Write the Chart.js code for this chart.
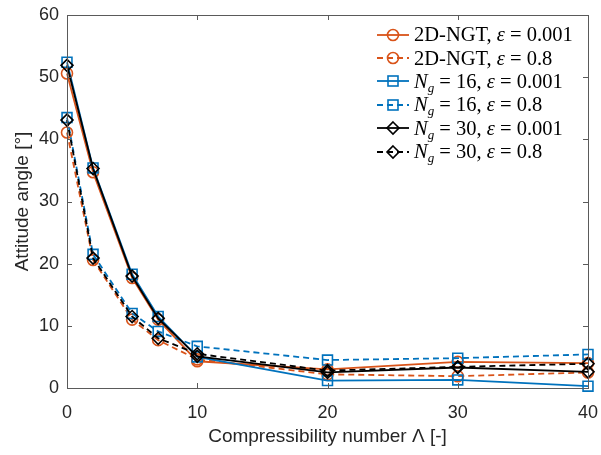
<!DOCTYPE html>
<html>
<head>
<meta charset="utf-8">
<script src="https://cdn.jsdelivr.net/npm/chart.js@4.4.1/dist/chart.umd.min.js"></script>
<style>
  html, body { margin: 0; padding: 0; background: #fff; }
  #wrap { position: relative; width: 601px; height: 455px; }
  #legend {
    position: absolute; left: 376px; top: 23px;
    font-family: "Liberation Serif", "DejaVu Serif", serif; font-size: 20.5px; color: #000;
  }
  #legend .row { height: 23.4px; display: flex; align-items: center; white-space: nowrap; }
  #legend svg { margin-right: 4px; }
  #legend sub { font-size: 13px; vertical-align: -4px; line-height: 0; }
</style>
</head>
<body>
<div id="wrap">
  <canvas id="chart" width="601" height="455"></canvas>
  <div id="legend"></div>
</div>
<script>
// compressibility numbers
var lambdas = [0, 2, 5, 7, 10, 20, 30, 40];

// attitude angle [deg]
var ngtFine   = [50.6, 34.7, 17.7, 11.0, 4.3, 3.0, 4.2, 4.0];
var ngtCoarse = [41.1, 20.6, 11.0, 7.7, 4.6, 2.2, 1.9, 2.5];
var ng16Fine   = [52.4, 35.4, 18.3, 11.5, 5.0, 1.2, 1.3, 0.3];
var ng16Coarse = [43.5, 21.5, 12.0, 9.1, 6.7, 4.5, 4.8, 5.4];
var ng30Fine   = [51.9, 35.3, 18.0, 11.2, 5.1, 2.5, 3.3, 2.6];
var ng30Coarse = [43.1, 20.9, 11.5, 8.0, 5.5, 2.8, 3.4, 3.9];

var xTicks = [0, 10, 20, 30, 40];
var yTicks = [0, 10, 20, 30, 40, 50, 60];

var orange = "#D95319";
var blue = "#0072BD";
var black = "#000000";

var seriesInfo = [
    {data: ngtFine,   color: orange, dash: [],     marker: "circle",  r: 5.5, label: '2D-NGT, <i>ε</i> = 0.001'},
    {data: ngtCoarse, color: orange, dash: [6, 4], marker: "circle",  r: 5.5, label: '2D-NGT, <i>ε</i> = 0.8'},
    {data: ng16Fine,  color: blue,   dash: [],     marker: "rect",    r: 7,   label: '<i>N</i><sub><i>g</i></sub> = 16, <i>ε</i> = 0.001'},
    {data: ng16Coarse,color: blue,   dash: [6, 4], marker: "rect",    r: 7,   label: '<i>N</i><sub><i>g</i></sub> = 16, <i>ε</i> = 0.8'},
    {data: ng30Fine,  color: black,  dash: [],     marker: "rectRot", r: 6,   label: '<i>N</i><sub><i>g</i></sub> = 30, <i>ε</i> = 0.001'},
    {data: ng30Coarse,color: black,  dash: [6, 4], marker: "rectRot", r: 6,   label: '<i>N</i><sub><i>g</i></sub> = 30, <i>ε</i> = 0.8'}
];

var datasets = seriesInfo.map(function(s, i) {
    return {
        data: lambdas.map(function(x, j) { return {x: x, y: s.data[j]}; }),
        borderColor: s.color,
        borderWidth: 1.8,
        borderDash: s.dash,
        pointStyle: s.marker,
        pointRadius: s.r,
        pointBorderWidth: 1.6,
        pointBorderColor: s.color,
        pointBackgroundColor: "rgba(0,0,0,0)",
        tension: 0,
        clip: false,
        order: 5 - i
    };
});

// box and inward ticks like matlab
var boxPlugin = {
    id: "box",
    afterDraw: function(chart) {
        var ctx = chart.ctx;
        var a = chart.chartArea;
        var xs = chart.scales.x, ys = chart.scales.y;
        ctx.save();
        ctx.strokeStyle = "#5a5a5a";
        ctx.lineWidth = 1;
        ctx.strokeRect(a.left + 0.5, a.top + 0.5, a.right - a.left, a.bottom - a.top);
        ctx.beginPath();
        xTicks.forEach(function(v) {
            var px = Math.round(xs.getPixelForValue(v)) + 0.5;
            ctx.moveTo(px, a.bottom); ctx.lineTo(px, a.bottom - 5);
            ctx.moveTo(px, a.top); ctx.lineTo(px, a.top + 5);
        });
        yTicks.forEach(function(v) {
            var py = Math.round(ys.getPixelForValue(v)) + 0.5;
            ctx.moveTo(a.left, py); ctx.lineTo(a.left + 5, py);
            ctx.moveTo(a.right, py); ctx.lineTo(a.right - 5, py);
        });
        ctx.stroke();
        ctx.restore();
    }
};

var tickFont = {family: "'Liberation Sans', Arial, sans-serif", size: 18};

new Chart(document.getElementById("chart"), {
    type: "line",
    data: {datasets: datasets},
    options: {
        responsive: false,
        animation: false,
        layout: {padding: {top: 15, right: 13, left: 0, bottom: 0}},
        plugins: {legend: {display: false}, tooltip: {enabled: false}},
        scales: {
            x: {
                type: "linear", min: 0, max: 40,
                afterBuildTicks: function(s) { s.ticks = xTicks.map(function(v) { return {value: v}; }); },
                afterFit: function(s) { s.height = 67; s.paddingLeft = 0; s.paddingRight = 0; },
                grid: {display: false, drawTicks: false},
                border: {display: false},
                ticks: {font: tickFont, color: "#262626", padding: 14, maxRotation: 0},
                title: {display: true, text: "Compressibility number Λ [-]", font: {family: "'Liberation Sans', Arial, sans-serif", size: 19}, color: "#262626", padding: {top: 0, bottom: 7}}
            },
            y: {
                min: 0, max: 60,
                afterBuildTicks: function(s) { s.ticks = yTicks.map(function(v) { return {value: v}; }); },
                afterFit: function(s) { s.width = 67; s.paddingTop = 0; s.paddingBottom = 0; },
                grid: {display: false, drawTicks: false},
                border: {display: false},
                ticks: {font: tickFont, color: "#262626", padding: 8},
                title: {display: true, text: "Attitude angle [°]", font: {family: "'Liberation Sans', Arial, sans-serif", size: 19}, color: "#262626", padding: {top: 11, bottom: 0}}
            }
        }
    },
    plugins: [boxPlugin]
});

// legend (needs italic symbols and subscripts, so plain html)
var legendBox = document.getElementById("legend");
seriesInfo.forEach(function(s) {
    var dash = s.dash.length ? 'stroke-dasharray="6,4"' : '';
    var m;
    if (s.marker === "circle") {
        m = '<circle cx="17" cy="9" r="5.5" fill="none" stroke="' + s.color + '" stroke-width="1.6"/>';
    } else if (s.marker === "rect") {
        m = '<rect x="12" y="4" width="10" height="10" fill="none" stroke="' + s.color + '" stroke-width="1.6"/>';
    } else {
        m = '<polygon points="17,3 23,9 17,15 11,9" fill="none" stroke="' + s.color + '" stroke-width="1.6"/>';
    }
    var row = document.createElement("div");
    row.className = "row";
    row.innerHTML = '<svg width="34" height="18"><line x1="1" y1="9" x2="33" y2="9" stroke="' + s.color + '" stroke-width="1.8" ' + dash + '/>' + m + '</svg><span>' + s.label + '</span>';
    legendBox.appendChild(row);
});
</script>
</body>
</html>
